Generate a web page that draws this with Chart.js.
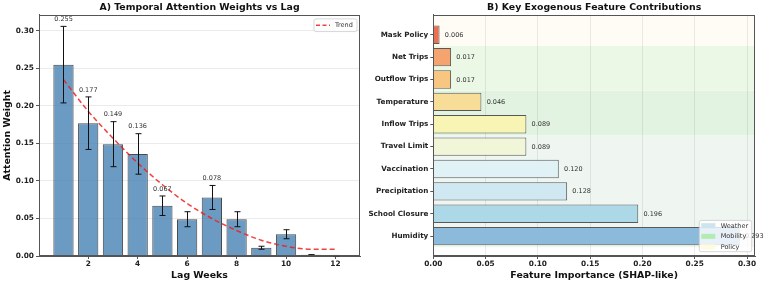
<!DOCTYPE html>
<html><head><meta charset="utf-8">
<script src="https://cdn.jsdelivr.net/npm/chart.js@4.4.1/dist/chart.umd.min.js"></script>
<style>
html,body{margin:0;padding:0;background:#fff;}
#wrap{position:relative;width:767px;height:284px;overflow:hidden;background:#fff;}
#c1{position:absolute;left:0;top:0;}
#c2{position:absolute;left:365px;top:0;}
</style></head><body>
<div id="wrap"><canvas id="c1" width="365" height="284"></canvas><canvas id="c2" width="402" height="284"></canvas></div>
<script>
// ---- Panel A data ----
const lagWeeks = [1,2,3,4,5,6,7,8,9,10,11,12];
const attentionWeights = [0.255,0.177,0.149,0.136,0.067,0.049,0.078,0.049,0.011,0.029,0.0015,0.0005];
const attentionErrors = [0.051,0.035,0.030,0.027,0.013,0.010,0.016,0.010,0.002,0.006,0.0003,0.0002];
const trendValues = [0.235,0.193,0.157,0.124,0.095,0.070,0.050,0.034,0.021,0.013,0.009,0.009];
const lagTicks = [2,4,6,8,10,12];
const weightTicks = [0,0.05,0.10,0.15,0.20,0.25,0.30];

// ---- Panel B data ----
const features = ['Humidity','School Closure','Precipitation','Vaccination','Travel Limit','Inflow Trips','Temperature','Outflow Trips','Net Trips','Mask Policy'];
const importance = [0.293,0.196,0.128,0.120,0.089,0.089,0.046,0.017,0.017,0.006];
const importanceTicks = [0,0.05,0.10,0.15,0.20,0.25,0.30];
const groupNames = ['Weather','Mobility','Policy'];

// ---- styles ----
const featureColors = ['#8bbadb','#add8e8','#cfe8f1','#e1f2f6','#f1f6d8','#f8f4b4','#f7dd98','#f8c680','#f5a46f','#e9714f'];
const groupColors = ['rgb(205,228,238)','rgb(178,236,178)','rgb(253,252,222)'];
const bandSpans = [[-0.5,4.5,'rgb(239,246,241)'],[4.5,6.5,'rgb(226,243,226)'],[6.5,8.5,'rgb(236,248,230)'],[8.5,null,'rgb(254,252,244)']];

Chart.defaults.font.family = "'DejaVu Sans', sans-serif";
Chart.defaults.color = '#222';
const FS_T = 9.4, FS_TICK = 7.4, FS_SMALL = 6.5;
const FRAME = '#555';

const framePlugin = {id:'frame', afterDatasetsDraw(chart){
  const a = chart.chartArea, c = chart.ctx;
  c.save(); c.strokeStyle = FRAME; c.lineWidth = 1;
  c.strokeRect(Math.round(a.left)+0.5, Math.round(a.top)+0.5, Math.round(a.right-a.left)-1, Math.round(a.bottom-a.top)-1);
  c.restore();
}};

function roundRect(c,x,y,w,h,r){
  c.beginPath(); c.moveTo(x+r,y); c.lineTo(x+w-r,y); c.quadraticCurveTo(x+w,y,x+w,y+r);
  c.lineTo(x+w,y+h-r); c.quadraticCurveTo(x+w,y+h,x+w-r,y+h); c.lineTo(x+r,y+h);
  c.quadraticCurveTo(x,y+h,x,y+h-r); c.lineTo(x,y+r); c.quadraticCurveTo(x,y,x+r,y); c.closePath();
}

// ---- Panel A ----
const errPlugin = {id:'err', afterDatasetsDraw(chart){
  const xs = chart.scales.x, ys = chart.scales.y, c = chart.ctx;
  c.save();
  c.strokeStyle = '#111'; c.lineWidth = 1;
  lagWeeks.forEach((lw,i)=>{
    const x = Math.round(xs.getPixelForValue(lw))+0.5;
    const yt = ys.getPixelForValue(attentionWeights[i]+attentionErrors[i]);
    const yb = ys.getPixelForValue(attentionWeights[i]-attentionErrors[i]);
    c.beginPath(); c.moveTo(x,yt); c.lineTo(x,yb);
    c.moveTo(x-3,yt); c.lineTo(x+3,yt); c.moveTo(x-3,yb); c.lineTo(x+3,yb); c.stroke();
  });
  c.fillStyle = '#333'; c.font = FS_SMALL+"px 'DejaVu Sans'"; c.textAlign='center'; c.textBaseline='bottom';
  lagWeeks.forEach((lw,i)=>{
    if (attentionWeights[i] > 0.05) {
      c.fillText(attentionWeights[i].toFixed(3), xs.getPixelForValue(lw), ys.getPixelForValue(attentionWeights[i]+attentionErrors[i]+0.005));
    }
  });
  // legend
  const a = chart.chartArea;
  const w = 43, h = 12.7, lx = a.right-3-w, ly = a.top+4;
  c.fillStyle = 'rgba(255,255,255,0.85)'; c.strokeStyle = '#ccc'; c.lineWidth = 0.8;
  roundRect(c,lx,ly,w,h,2); c.fill(); c.stroke();
  c.strokeStyle = 'rgba(240,30,30,0.85)'; c.lineWidth = 1.5; c.setLineDash([4,2.5]);
  c.beginPath(); c.moveTo(lx+2,ly+h/2); c.lineTo(lx+16,ly+h/2); c.stroke(); c.setLineDash([]);
  c.fillStyle = '#333'; c.textAlign='left'; c.textBaseline='middle';
  c.fillText('Trend', lx+21, ly+h/2+0.3);
  c.restore();
}};

new Chart(document.getElementById('c1'), {
  type:'bar',
  data:{datasets:[
    {type:'line', label:'Trend', data: lagWeeks.map((x,i)=>({x:x, y:trendValues[i]})), borderColor:'rgba(240,30,30,0.85)', borderWidth:1.5, borderDash:[5,3], pointRadius:0, cubicInterpolationMode:'monotone', order:0},
    {type:'bar', label:'Attention Weight', data: lagWeeks.map((x,i)=>({x:x, y:attentionWeights[i]})), backgroundColor:'rgba(70,130,180,0.8)', borderColor:'rgba(30,30,30,0.8)', borderWidth:1, barPercentage:0.82, categoryPercentage:1, order:1}
  ]},
  options:{
    responsive:false, animation:false, devicePixelRatio:1,
    layout:{padding:{left:0,right:5,top:0,bottom:0}},
    plugins:{legend:{display:false}, tooltip:{enabled:false},
      title:{display:true, fullSize:false, text:'A) Temporal Attention Weights vs Lag', font:{size:FS_T, weight:'bold'}, color:'#111', padding:{top:1.5,bottom:2.1}}},
    scales:{
      x:{type:'linear', bounds:'data', offset:false, min:0.01, max:12.99,
        afterBuildTicks:s=>{s.ticks = lagTicks.map(v=>({value:v}));},
        ticks:{font:{size:FS_TICK, weight:'bold'}, color:'#222', padding:1, maxRotation:0, callback:v=>String(v)},
        grid:{drawOnChartArea:false, offset:false, tickLength:3, tickColor:FRAME},
        border:{color:FRAME},
        title:{display:true, text:'Lag Weeks', font:{size:FS_T, weight:'bold'}, color:'#111', padding:{top:0,bottom:2.4}},
        afterFit:s=>{s.height=28;}},
      y:{type:'linear', bounds:'data', min:0, max:0.3213,
        afterBuildTicks:s=>{s.ticks = weightTicks.map(v=>({value:v}));},
        ticks:{font:{size:FS_TICK, weight:'bold'}, color:'#222', padding:2, callback:v=>Number(v).toFixed(2)},
        grid:{color:'rgba(0,0,0,0.08)', tickLength:3, tickColor:FRAME},
        border:{color:FRAME},
        title:{display:true, text:'Attention Weight', font:{size:FS_T, weight:'bold'}, color:'#111', padding:{top:2.3,bottom:0}},
        afterFit:s=>{s.width=39;}}
    }
  },
  plugins:[errPlugin, framePlugin]
});

// ---- Panel B ----
const bandPlugin = {id:'bands', beforeDraw(chart){
  const ys = chart.scales.y, a = chart.chartArea, c = chart.ctx;
  c.save();
  bandSpans.forEach(([from,to,col])=>{
    const y1 = ys.getPixelForValue(from);
    const y2 = to===null ? a.top : ys.getPixelForValue(to);
    c.fillStyle = col;
    c.fillRect(a.left, Math.min(y1,y2), a.right-a.left, Math.abs(y1-y2));
  });
  c.restore();
}};

const labelPlugin = {id:'vals', afterDatasetsDraw(chart){
  const xs = chart.scales.x, ys = chart.scales.y, c = chart.ctx;
  c.save();
  c.fillStyle = '#333'; c.font = FS_SMALL+"px 'DejaVu Sans'"; c.textAlign='left'; c.textBaseline='middle';
  features.forEach((f,i)=>{
    c.fillText(importance[i].toFixed(3), xs.getPixelForValue(importance[i]+0.005), ys.getPixelForValue(i)+0.3);
  });
  // legend
  const a = chart.chartArea;
  const w = 52.4, h = 31.3, lx = a.right-3.3-w, ly = a.bottom-4.3-h;
  c.fillStyle = 'rgba(255,255,255,0.8)'; c.strokeStyle = '#ccc'; c.lineWidth = 0.8;
  roundRect(c,lx,ly,w,h,2); c.fill(); c.stroke();
  groupNames.forEach((g,k)=>{
    const cy = ly + 5.3 + k*10.65;
    c.fillStyle = groupColors[k];
    c.fillRect(lx+2, cy-2.5, 14, 5);
    c.fillStyle = '#333';
    c.fillText(g, lx+21.4, cy+0.3);
  });
  c.restore();
}};

new Chart(document.getElementById('c2'), {
  type:'bar',
  data:{datasets:[
    {label:'Importance', data: features.map((f,i)=>({x:importance[i], y:i})), backgroundColor: featureColors, borderColor:'rgba(50,50,50,0.8)', borderWidth:1, barPercentage:0.82, categoryPercentage:1}
  ]},
  options:{
    indexAxis:'y', responsive:false, animation:false, devicePixelRatio:1,
    layout:{padding:{left:0,right:12,top:0,bottom:0}},
    plugins:{legend:{display:false}, tooltip:{enabled:false},
      title:{display:true, fullSize:false, text:'B) Key Exogenous Feature Contributions', font:{size:FS_T, weight:'bold'}, color:'#111', padding:{top:1.5,bottom:2.1}}},
    scales:{
      x:{type:'linear', bounds:'data', offset:false, min:0, max:0.30765,
        afterBuildTicks:s=>{s.ticks = importanceTicks.map(v=>({value:v}));},
        ticks:{font:{size:FS_TICK, weight:'bold'}, color:'#222', padding:1, maxRotation:0, callback:v=>Number(v).toFixed(2)},
        grid:{color:'rgba(0,0,0,0.08)', offset:false, tickLength:3, tickColor:FRAME},
        border:{color:FRAME},
        title:{display:true, text:'Feature Importance (SHAP-like)', font:{size:FS_T, weight:'bold'}, color:'#111', padding:{top:0,bottom:2.4}},
        afterFit:s=>{s.height=28;}},
      y:{type:'linear', bounds:'data', offset:false, min:-0.89, max:9.89,
        afterBuildTicks:s=>{s.ticks = features.map((f,i)=>({value:i}));},
        ticks:{font:{size:7.2, weight:'bold'}, color:'#222', padding:2, callback:v=>features[Math.round(v)]},
        grid:{drawOnChartArea:false, offset:false, tickLength:3, tickColor:FRAME},
        border:{color:FRAME},
        afterFit:s=>{s.width=68.3;}}
    }
  },
  plugins:[bandPlugin, labelPlugin, framePlugin]
});
</script>
</body></html>
